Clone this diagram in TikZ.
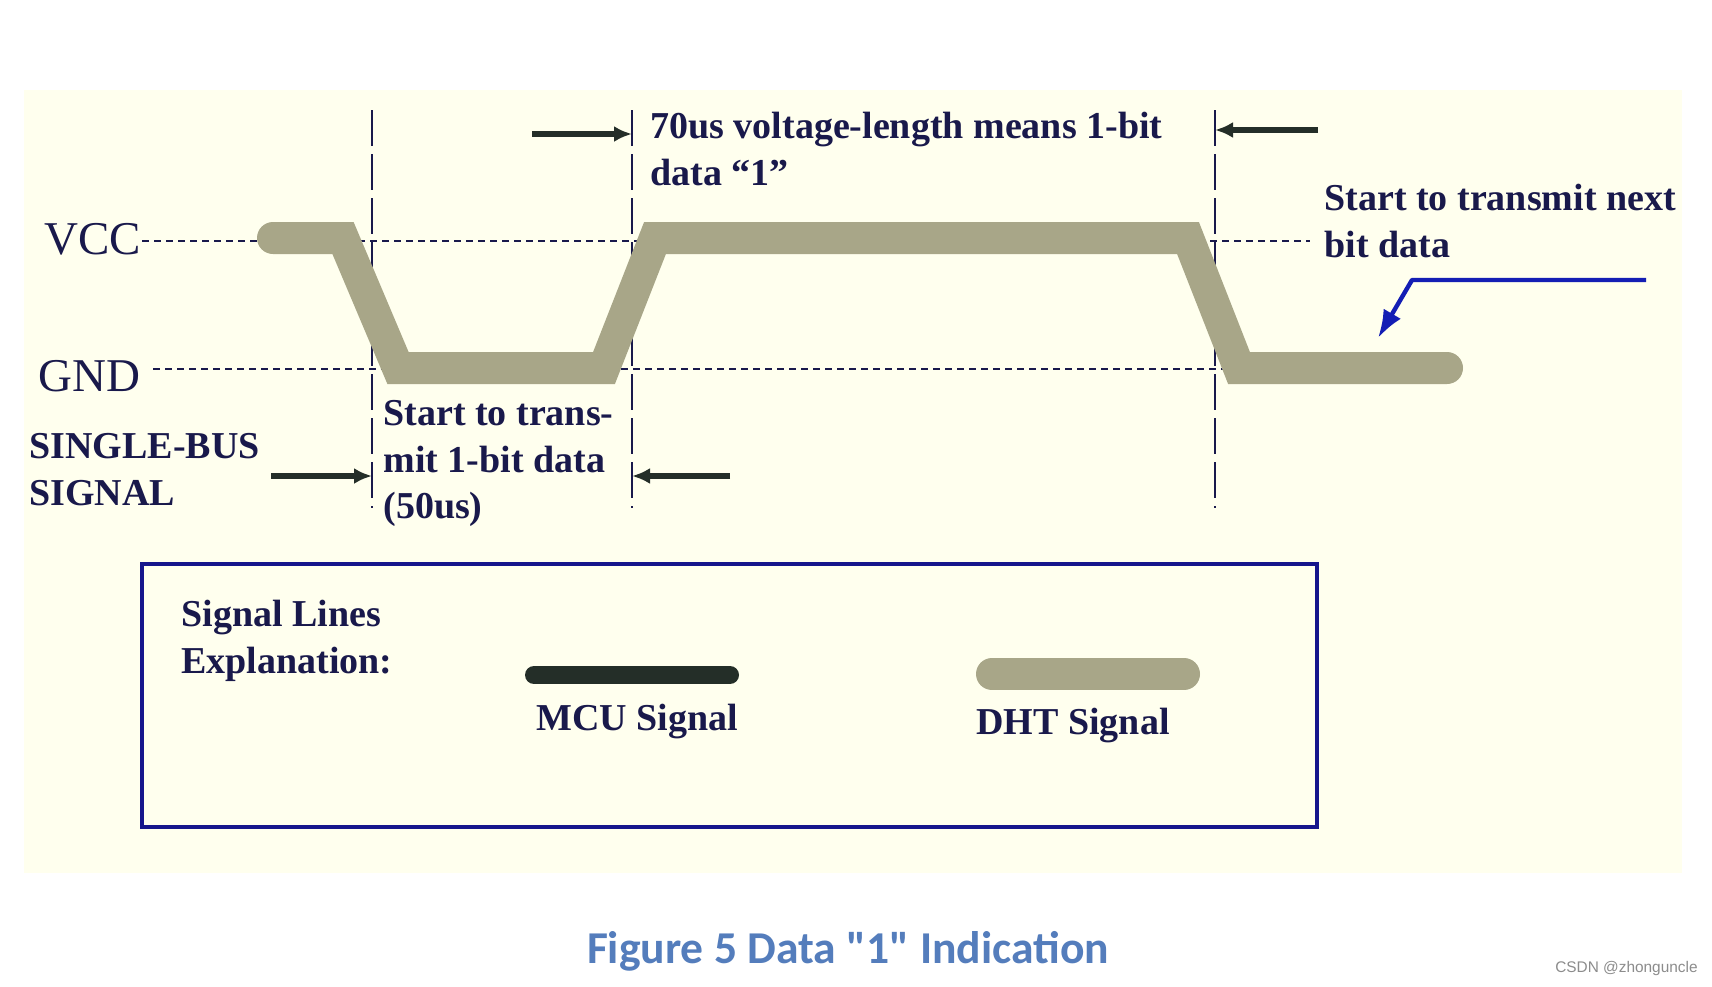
\documentclass[tikz,border=0pt]{standalone}
\usepackage{fontspec}
\setmainfont{Liberation Serif}
\newfontfamily\capfont{Carlito}
\newfontfamily\markfont{Liberation Sans}
\usetikzlibrary{arrows.meta, positioning}

\definecolor{panelbg}{RGB}{255,255,238}
\definecolor{inkblue}{RGB}{25,25,75}
\definecolor{dhtgray}{RGB}{168,166,136}
\definecolor{mcudark}{RGB}{36,46,40}
\definecolor{frameblue}{RGB}{22,22,140}
\definecolor{pointblue}{RGB}{20,30,180}
\definecolor{capblue}{RGB}{84,125,188}

\tikzset{
  lbl/.style={font=\bfseries\fontsize{19}{23.3}\selectfont, text=inkblue, inner sep=0pt, align=left, anchor=north west},
  lvl/.style={font=\fontsize{23.5}{28}\selectfont, text=inkblue, inner sep=0pt, anchor=base west},
  dhtline/.style={draw=dhtgray, line width=16pt, line cap=round, line join=miter},
  mculine/.style={draw=mcudark, line width=9pt, line cap=round},
  refline/.style={draw=inkblue, line width=1pt, dash pattern=on 3.5pt off 2.5pt},
  edgeline/.style={draw=inkblue, line width=1pt, dash pattern=on 18pt off 4pt},
  dimarrow/.style={draw=mcudark, line width=3pt, -{Latex[length=9pt,width=8pt]}},
}

\begin{document}
\begin{tikzpicture}[x=0.5pt, y=-0.5pt]
  \useasboundingbox (0,0) rectangle (1712,986);
  \fill[white] (0,0) rectangle (1712,986);
  \fill[panelbg] (24,90) rectangle (1682,873);

  % VCC / GND levels
  \node[lvl] (vcc) at (44,254) {VCC};
  \node[lvl] (gnd) at (38,391) {GND};
  \coordinate (vccA) at (142,241);
  \coordinate (vccB) at (1310,241);
  \coordinate (gndA) at (153,369);
  \coordinate (gndB) at (1316,369);
  \draw[refline] (vccA) -- (vccB);
  \draw[refline] (gndA) -- (gndB);

  % bit boundaries
  \foreach \x/\n in {372/ba, 632/bb, 1215/bc} {
    \coordinate (\n-top) at (\x,110);
    \coordinate (\n-bot) at (\x,508);
    \draw[edgeline] (\n-top) -- (\n-bot);
  }

  % DHT signal
  \draw[dhtline] (273,238) -- (343,238) -- (398,368) -- (604,368) -- (655,238)
    -- (1188,238) -- (1239,368) -- (1447,368);

  % widths
  \coordinate (wa) at (271,476);
  \coordinate (wb) at (730,476);
  \coordinate (wc) at (532,134);
  \coordinate (wd) at (1318,130);
  \draw[dimarrow] (wa) -- (ba-bot |- wa);
  \draw[dimarrow] (wb) -- (bb-bot |- wb);
  \draw[dimarrow] (wc) -- (bb-top |- wc);
  \draw[dimarrow] (wd) -- (bc-top |- wd);

  % texts
  \node[lbl] (high) at (650,112) {70us voltage-length means 1-bit\\data ``1''};
  \node[lbl] (next) at (1324,184) {Start to transmit next\\bit data};
  \node[lbl] (low) at (383,400) {Start to trans-\\mit 1-bit data\\(50us)};
  \node[lbl] (bus) at (29,433) {SINGLE-BUS\\SIGNAL};

  % next bit pointer
  \coordinate (pa) at (1646,280);
  \coordinate (pb) at (1412,280);
  \coordinate (pc) at (1378,338);
  \draw[pointblue, line width=2.2pt, line join=round, -{Latex[length=14pt,width=10pt]}] (pa) -- (pb) -- (pc);

  % legend
  \draw[frameblue, line width=2.3pt] (142,564) rectangle (1317,827);
  \node[lbl] (expl) at (181,600) {Signal Lines\\Explanation:};
  \coordinate (ma) at (534,675);
  \coordinate (mb) at (730,675);
  \draw[mculine] (ma) -- (mb);
  \node[lbl, anchor=base] (mcu) at (637,730) {MCU Signal};
  \coordinate (da) at (992,674);
  \coordinate (db) at (1184,674);
  \draw[dhtline] (da) -- (db);
  \node[lbl, anchor=base] (dht) at (1073,734) {DHT Signal};

  % caption
  \node[font=\capfont\bfseries\fontsize{22.8}{27}\selectfont, text=capblue, anchor=base] (cap) at (848,963) {Figure 5 Data "1" Indication};
  \node[font=\markfont\fontsize{7.7}{9}\selectfont, text=black!45, anchor=base east, inner sep=0pt] (mark) at (1698,972) {CSDN @zhonguncle};
\end{tikzpicture}
\end{document}
